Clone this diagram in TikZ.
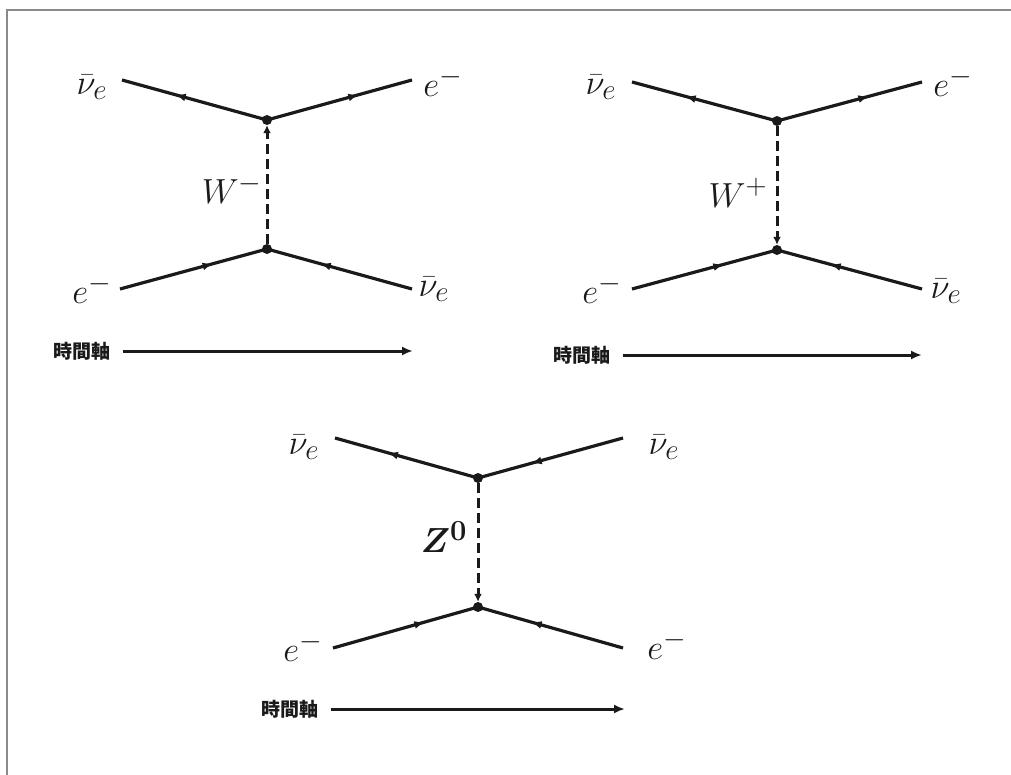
\RequirePackage{fix-cm}
\documentclass[tikz,border=0pt]{standalone}
\usepackage{fontspec}
\usepackage{amsmath}
\usetikzlibrary{decorations.markings,arrows.meta}
\newfontfamily\jpfont{Noto Sans CJK JP}
\definecolor{ink}{HTML}{1A1A1A}
\definecolor{framegray}{HTML}{8A8A8A}
\begin{document}
\begin{tikzpicture}[x=1pt,y=-1pt,
  fermion/.style={ink, line width=3.2pt, postaction={decorate},
    decoration={markings, mark=at position 0.63 with {\arrow{Latex[length=10pt,width=8pt]}}}},
  boson/.style={ink, line width=3pt, dash pattern=on 10pt off 5pt, -{Latex[length=8pt,width=8pt]}},
  vtx/.style={circle, fill=ink, inner sep=0pt, minimum size=10pt},
  lbl/.style={font=\fontsize{24.88}{26}\selectfont, scale=1.4, inner sep=0pt, text=ink},
  jp/.style={font=\jpfont\bfseries\fontsize{19}{20}\selectfont, inner sep=0pt, text=ink},
  tax/.style={ink, line width=3pt, -{Latex[length=11pt,width=9pt]}}]
\useasboundingbox (0,0) rectangle (1011,775);
\draw[framegray, line width=1.5pt] (7,775) -- (7,10) -- (1011,10);

% ---------- Diagram 1 ----------
\node[vtx] (v1t) at (267,120) {};
\node[vtx] (v1b) at (267,249) {};
\coordinate (a1) at (122,80);
\coordinate (b1) at (412,80);
\coordinate (c1) at (120,289);
\coordinate (d1) at (412,289);
\draw[fermion] (v1t.center) -- (a1);
\draw[fermion] (v1t.center) -- (b1);
\draw[fermion] (c1) -- (v1b.center);
\draw[fermion] (d1) -- (v1b.center);
\draw[boson] (v1b) -- (v1t);
\node[lbl] (la1) at (92,87) {$\bar{\nu}_e$};
\node[lbl] (lb1) at (443,82) {$e^-$};
\node[lbl] (lc1) at (92,289) {$e^-$};
\node[lbl] (ld1) at (434,289) {$\bar{\nu}_e$};
\node[lbl] (w1) at (232,189) {$W^-$};
\node[jp] (t1) at (82,351) {時間軸};
\coordinate (t1e) at (413,351);
\draw[tax] ([xshift=12pt]t1.east) -- (t1e);

% ---------- Diagram 2 ----------
\node[vtx] (v2t) at (777,121) {};
\node[vtx] (v2b) at (777,250) {};
\coordinate (a2) at (632,82);
\coordinate (b2) at (922,82);
\coordinate (c2) at (632,289);
\coordinate (d2) at (922,289);
\draw[fermion] (v2t.center) -- (a2);
\draw[fermion] (v2t.center) -- (b2);
\draw[fermion] (c2) -- (v2b.center);
\draw[fermion] (d2) -- (v2b.center);
\draw[boson] (v2t) -- (v2b);
\node[lbl] (la2) at (601,87) {$\bar{\nu}_e$};
\node[lbl] (lb2) at (953,82) {$e^-$};
\node[lbl] (lc2) at (602,289) {$e^-$};
\node[lbl] (ld2) at (946,291) {$\bar{\nu}_e$};
\node[lbl] (w2) at (738,193) {$W^+$};
\node[jp] (t2) at (582,355) {時間軸};
\coordinate (t2e) at (922,355);
\draw[tax] ([xshift=12pt]t2.east) -- (t2e);

% ---------- Diagram 3 ----------
\node[vtx] (v3t) at (478,478) {};
\node[vtx] (v3b) at (478,607) {};
\coordinate (a3) at (335,438);
\coordinate (b3) at (623,438);
\coordinate (c3) at (333,648);
\coordinate (d3) at (623,648);
\draw[fermion] (v3t.center) -- (a3);
\draw[fermion] (b3) -- (v3t.center);
\draw[fermion] (c3) -- (v3b.center);
\draw[fermion] (d3) -- (v3b.center);
\draw[boson] (v3t) -- (v3b);
\node[lbl] (la3) at (304,447) {$\bar{\nu}_e$};
\node[lbl] (lb3) at (664,447) {$\bar{\nu}_e$};
\node[lbl] (lc3) at (303,647) {$e^-$};
\node[lbl] (ld3) at (667,645) {$e^-$};
\node[lbl] (z3) at (444,537) {$\boldsymbol{Z^0}$};
\node[jp] (t3) at (290,709) {時間軸};
\coordinate (t3e) at (625,709);
\draw[tax] ([xshift=12pt]t3.east) -- (t3e);
\end{tikzpicture}
\end{document}
